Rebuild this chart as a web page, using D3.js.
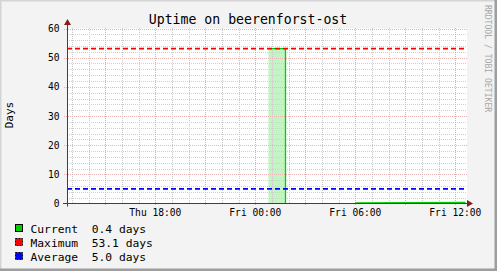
<!DOCTYPE html>
<html>
<head>
<meta charset="utf-8">
<script src="https://cdn.jsdelivr.net/npm/d3@7"></script>
<style>
  body { margin: 0; background: #f3f3f3; }
  svg { display: block; font-family: "DejaVu Sans Mono", monospace; }
</style>
</head>
<body>
<svg width="497" height="271"></svg>
<script>
// Data
const timeStart = '2010-01-07T12:42:00Z'
const timeEnd = '2010-01-08T12:42:00Z'
const sampleTimes = ['2010-01-08T00:47:00Z', '2010-01-08T01:48:00Z', '2010-01-08T01:48:00Z', '2010-01-08T01:49:00Z', '2010-01-08T05:59:00Z', '2010-01-08T12:35:00Z']
const uptimeDays = [53.1, 53.1, 0, null, 0.17, 0.4]
const maxDays = 53.1
const avgDays = 5.0
const yTicks = [0, 10, 20, 30, 40, 50, 60]
const legendNames = ['Current', 'Maximum', 'Average']
const legendValues = ['0.4 days', '53.1 days', '5.0 days']
const legendColors = ['#00cc00', '#ff0000', '#0000ff']

const svg = d3.select('svg')
const W = 497, H = 271

// frame
svg.append('rect').attr('width', W).attr('height', H).attr('fill', '#f3f3f3')
svg.append('path').attr('d', `M0,${H} V0 H${W}`).attr('fill', 'none')
    .attr('stroke', '#d4d4d4').attr('stroke-width', 3)
svg.append('path').attr('d', `M0,${H - 1} H${W - 1} V0`).attr('fill', 'none')
    .attr('stroke', '#9e9e9e').attr('stroke-width', 3)

// scales
const x = d3.scaleUtc()
    .domain([new Date(timeStart), new Date(timeEnd)])
    .range([67, 467])
const y = d3.scaleLinear().domain([0, 60]).range([203.5, 28.5])
const px = v => Math.round(v) + 0.5

// plot background
svg.append('rect')
    .attr('x', 67).attr('y', y(60))
    .attr('width', 400).attr('height', y(0) - y(60))
    .attr('fill', '#ffffff')

// uptime area
const pts = sampleTimes.map((t, i) => ({ t: new Date(t), v: uptimeDays[i] }))
svg.append('path')
    .datum(pts)
    .attr('fill', '#c4f4c4')
    .attr('d', d3.area().defined(d => d.v !== null).x(d => x(d.t)).y0(y(0)).y1(d => y(d.v)))

// grid (dash start on whole pixels so the dots stay sharp)
const grid = svg.append('g').attr('fill', 'none').attr('stroke-width', 1)
const hours = d3.utcHour.every(1).range(x.domain()[0], x.domain()[1])
const major3 = d3.utcHour.every(3).range(x.domain()[0], x.domain()[1])
const majorSet = new Set(major3.map(d => +d))
grid.selectAll('line.vmin')
    .data(hours.filter(d => !majorSet.has(+d)))
    .join('line')
    .attr('x1', d => px(x(d))).attr('x2', d => px(x(d)))
    .attr('y1', 28).attr('y2', 203)
    .attr('stroke', '#c8c8c8').attr('stroke-dasharray', '1,1')
grid.selectAll('line.hmin')
    .data(d3.range(2, 60, 2).filter(v => v % 10 !== 0))
    .join('line')
    .attr('x1', 67).attr('x2', 467)
    .attr('y1', d => px(y(d))).attr('y2', d => px(y(d)))
    .attr('stroke', '#d0d0d0').attr('stroke-dasharray', '1,1')
grid.selectAll('line.vmaj')
    .data(major3)
    .join('line')
    .attr('x1', d => px(x(d))).attr('x2', d => px(x(d)))
    .attr('y1', 28).attr('y2', 206)
    .attr('stroke', '#e6a8a8').attr('stroke-dasharray', '1,1')
grid.selectAll('line.hmaj')
    .data(yTicks.slice(1))
    .join('line')
    .attr('x1', 64).attr('x2', 467)
    .attr('y1', d => px(y(d))).attr('y2', d => px(y(d)))
    .attr('stroke', '#ebb4b4').attr('stroke-dasharray', '1,1')

// uptime line
svg.append('path')
    .datum(pts)
    .attr('fill', 'none')
    .attr('stroke', '#00cc00')
    .attr('stroke-width', 1.3)
    .attr('d', d3.line().defined(d => d.v !== null).x(d => px(x(d.t))).y(d => y(d.v)))

// max / avg lines
svg.append('line')
    .attr('x1', 67).attr('x2', 467)
    .attr('y1', y(maxDays)).attr('y2', y(maxDays))
    .attr('stroke', '#ff0000').attr('stroke-width', 1.6).attr('stroke-dasharray', '5,3')
svg.append('line')
    .attr('x1', 67).attr('x2', 467)
    .attr('y1', y(avgDays)).attr('y2', y(avgDays))
    .attr('stroke', '#0000ff').attr('stroke-width', 1.6).attr('stroke-dasharray', '5,3')

// axes
svg.append('line').attr('x1', 63).attr('x2', 469).attr('y1', y(0)).attr('y2', y(0))
    .attr('stroke', '#404040')
svg.append('line').attr('x1', 67.5).attr('x2', 67.5).attr('y1', y(0) + 3).attr('y2', 24)
    .attr('stroke', '#404040')
svg.append('path').attr('d', `M467,${y(0) - 3.5} L473,${y(0)} L467,${y(0) + 3.5} Z`).attr('fill', '#8b1a1a')
svg.append('path').attr('d', `M64,25 L67.5,19 L71,25 Z`).attr('fill', '#8b1a1a')

// tick labels
svg.append('g')
    .selectAll('text')
    .data(yTicks)
    .join('text')
    .attr('x', 59.5).attr('y', d => y(d) + 3.5)
    .attr('text-anchor', 'end')
    .attr('font-size', 9.6)
    .attr('fill', '#000')
    .text(d => d)
const fmt = d3.utcFormat('%a %H:%M')
svg.append('g')
    .selectAll('text')
    .data(d3.utcHour.every(6).range(x.domain()[0], x.domain()[1]))
    .join('text')
    .attr('x', d => x(d)).attr('y', 215.5)
    .attr('text-anchor', 'middle')
    .attr('font-size', 9.6)
    .attr('fill', '#000')
    .text(d => fmt(d))

// title and labels
svg.append('text')
    .attr('x', 248).attr('y', 24)
    .attr('text-anchor', 'middle')
    .attr('font-size', 13.2)
    .text('Uptime on beerenforst-ost')
svg.append('text')
    .attr('transform', 'translate(12.5,115) rotate(-90)')
    .attr('text-anchor', 'middle')
    .attr('font-size', 11)
    .text('Days')
svg.append('text')
    .attr('transform', 'translate(484.5,5) rotate(90)')
    .attr('font-size', 8.1)
    .attr('fill', '#a8a8a8')
    .text('RRDTOOL / TOBI OETIKER')

// legend
const legend = svg.append('g')
    .selectAll('g')
    .data(legendNames)
    .join('g')
    .attr('transform', (d, i) => `translate(0,${229 + i * 14})`)
legend.append('rect')
    .attr('x', 15.5).attr('y', -4.5).attr('width', 7).attr('height', 7)
    .attr('fill', (d, i) => legendColors[i])
    .attr('stroke', '#000')
    .attr('stroke-dasharray', (d, i) => i === 0 ? null : '2,1')
legend.append('text')
    .attr('x', 30.5).attr('y', 4)
    .attr('font-size', 11.3)
    .attr('xml:space', 'preserve')
    .style('white-space', 'pre')
    .text((d, i) => d.padEnd(9, ' ') + legendValues[i])
</script>
</body>
</html>
